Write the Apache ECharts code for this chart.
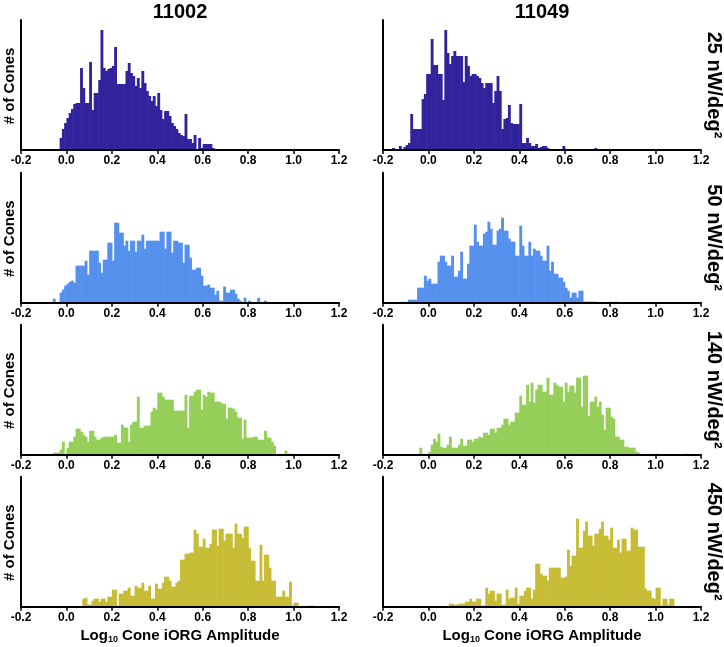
<!DOCTYPE html>
<html>
<head>
<meta charset="utf-8">
<script src="https://cdn.jsdelivr.net/npm/echarts@6/dist/echarts.min.js"></script>
<style>
  html, body { margin: 0; padding: 0; background: #fff; }
  #chart { width: 724px; height: 647px; }
</style>
</head>
<body>
<div id="chart"></div>
<script>
// bin width of every histogram (log10 units)
const BIN = 0.01;

// column / row labels
const animals = ['11002', '11049'];
const intensities = ['25', '50', '140', '450'];

// x axis ticks
const xMin = -0.2, xMax = 1.2, xStep = 0.2;

// 25 nW/deg2
const start11002_25 = -0.03;
const counts11002_25 = [12, 21, 27, 32, 37, 41, 46, 47, 47, 82, 62, 47, 47, 88, 40, 57, 57, 70, 120, 82,
  79, 81, 82, 84, 103, 66, 66, 66, 66, 79, 87, 77, 74, 64, 72, 62, 79, 67, 59, 54,
  49, 54, 44, 57, 40, 31, 39, 39, 34, 27, 24, 21, 17, 15, 14, 36, 11, 11, 7, 15,
  1, 12, 2, 6, 6, 6, 6, 2, 1, 1, 0, 1, 1, 0, 0, 0, 0, 0, 0, 0, 0, 0, 0, 1, 1];
const start11049_25 = -0.17;
const counts11049_25 = [1, 2, 0, 1, 4, 1, 3, 5, 7, 36, 21, 21, 21, 21, 51, 56, 76, 76, 111, 85,
  85, 76, 76, 50, 120, 97, 86, 94, 99, 94, 94, 94, 68, 94, 84, 74, 76, 76, 74, 72,
  67, 62, 67, 67, 67, 47, 59, 74, 59, 21, 31, 32, 45, 27, 26, 26, 26, 46, 7, 7,
  12, 7, 4, 4, 6, 2, 3, 4, 4, 2, 1, 1, 0, 1, 0, 0, 4, 1, 0, 0, 0, 0, 0, 0,
  0, 0, 0, 0, 0, 0, 2];

// 50 nW/deg2
const start11002_50 = -0.06;
const counts11002_50 = [4, 0, 0, 10, 13, 17, 19, 21, 22, 20, 37, 37, 37, 37, 42, 28, 52, 52, 52, 52,
  40, 30, 43, 43, 60, 60, 42, 80, 80, 70, 70, 57, 62, 52, 62, 62, 51, 62, 62, 68,
  54, 62, 62, 62, 62, 62, 62, 71, 71, 54, 71, 71, 50, 62, 62, 60, 60, 40, 58, 58,
  45, 33, 33, 35, 35, 27, 17, 17, 18, 15, 15, 8, 12, 2, 2, 16, 10, 10, 13, 13,
  9, 4, 2, 0, 5, 0, 2, 0, 0, 0, 5, 0, 0, 2];
const start11049_50 = -0.12;
const counts11049_50 = [1, 0, 0, 3, 3, 3, 3, 15, 15, 15, 27, 22, 24, 19, 19, 19, 41, 47, 47, 41,
  37, 37, 47, 26, 26, 32, 51, 24, 24, 39, 57, 57, 78, 61, 57, 57, 69, 71, 81, 74,
  58, 58, 72, 74, 85, 72, 72, 64, 61, 61, 47, 47, 77, 57, 47, 47, 61, 47, 54, 52,
  52, 47, 42, 42, 57, 32, 41, 29, 29, 25, 25, 21, 15, 12, 5, 10, 10, 5, 12, 12,
  1, 1, 1, 1, 1, 1, 0, 0, 0, 0, 0, 0, 1, 0, 1];

// 140 nW/deg2
const start11002_140 = -0.06;
const counts11002_140 = [2, 2, 2, 5, 13, 0, 7, 13, 13, 18, 26, 26, 23, 20, 18, 13, 24, 24, 18, 15,
  15, 17, 18, 18, 18, 18, 18, 20, 12, 12, 30, 27, 27, 13, 30, 33, 33, 58, 27, 27,
  29, 29, 29, 43, 47, 45, 62, 62, 58, 55, 55, 55, 55, 44, 44, 44, 44, 44, 60, 27,
  59, 59, 63, 65, 65, 45, 60, 58, 63, 62, 62, 53, 53, 53, 51, 51, 36, 47, 47, 46,
  43, 37, 37, 16, 35, 17, 17, 17, 18, 18, 15, 15, 15, 24, 17, 17, 13, 9, 0, 0,
  0, 0, 4, 1, 1, 1];
const start11049_140 = -0.05;
const counts11049_140 = [1, 7, 1, 0, 1, 3, 10, 16, 13, 21, 8, 7, 7, 10, 18, 7, 7, 7, 10, 16,
  9, 9, 15, 15, 13, 16, 16, 18, 17, 22, 22, 20, 26, 26, 22, 27, 27, 30, 36, 36,
  30, 33, 33, 42, 42, 59, 50, 50, 70, 53, 72, 52, 65, 70, 70, 63, 63, 77, 60, 60,
  72, 70, 68, 68, 53, 72, 63, 69, 69, 62, 77, 77, 48, 79, 79, 39, 53, 53, 58, 48,
  53, 40, 25, 47, 47, 38, 36, 18, 18, 15, 15, 8, 8, 7, 7, 7, 3, 2, 0, 0,
  0, 0, 1, 0, 0, 1, 0, 0, 0, 0, 0, 0, 0, 0, 0, 0, 0, 0, 1];

// 450 nW/deg2
const start11002_450 = 0.07;
const counts11002_450 = [8, 9, 2, 2, 6, 8, 8, 5, 8, 8, 5, 10, 10, 17, 17, 1, 13, 13, 16, 16,
  19, 11, 11, 21, 19, 19, 24, 16, 16, 21, 8, 8, 23, 18, 18, 24, 30, 30, 26, 20,
  20, 24, 26, 47, 47, 53, 53, 54, 54, 77, 73, 60, 60, 68, 59, 59, 63, 77, 77, 61,
  78, 78, 66, 73, 73, 73, 59, 83, 73, 73, 69, 80, 80, 59, 46, 46, 26, 26, 62, 26,
  52, 52, 39, 26, 26, 10, 10, 10, 16, 10, 10, 25, 1, 4, 4, 0, 0, 0, 0, 1,
  1, 1];
const start11049_450 = 0.09;
const counts11049_450 = [3, 3, 2, 2, 3, 3, 3, 5, 5, 8, 5, 5, 8, 8, 1, 1, 19, 13, 16, 16,
  6, 13, 13, 2, 2, 17, 8, 9, 9, 19, 3, 11, 11, 16, 19, 19, 8, 17, 43, 43,
  33, 31, 31, 26, 39, 39, 39, 39, 39, 29, 29, 30, 57, 41, 51, 51, 88, 59, 59, 76,
  85, 71, 71, 61, 73, 73, 78, 85, 71, 71, 67, 79, 59, 59, 67, 54, 68, 68, 56, 56,
  79, 77, 77, 60, 60, 60, 18, 16, 16, 9, 8, 19, 19, 1, 8, 8, 2, 8, 8];

const rowColors = ['#31239b', '#5591ec', '#95cf59', '#c7bc35'];

const panels = [
  { row: 0, col: 0, start: start11002_25, counts: counts11002_25 },
  { row: 0, col: 1, start: start11049_25, counts: counts11049_25 },
  { row: 1, col: 0, start: start11002_50, counts: counts11002_50 },
  { row: 1, col: 1, start: start11049_50, counts: counts11049_50 },
  { row: 2, col: 0, start: start11002_140, counts: counts11002_140 },
  { row: 2, col: 1, start: start11049_140, counts: counts11049_140 },
  { row: 3, col: 0, start: start11002_450, counts: counts11002_450 },
  { row: 3, col: 1, start: start11049_450, counts: counts11049_450 }
];

// layout
const colLeft = [21, 383];
const plotW = 318;
const rowBase = [150, 302.7, 454.7, 606.7];
const plotH = 130;
const FONT = '"Liberation Sans", Arial, Helvetica, sans-serif';

const chart = echarts.init(document.getElementById('chart'));

const grid = [], xAxis = [], yAxis = [], series = [];
panels.forEach((p, i) => {
  grid.push({
    left: colLeft[p.col],
    top: rowBase[p.row] - plotH,
    width: plotW,
    height: plotH,
    containLabel: false
  });
  xAxis.push({
    type: 'value',
    gridIndex: i,
    min: xMin,
    max: xMax,
    interval: xStep,
    z: 10,
    axisLine: { show: true, onZero: false, lineStyle: { color: '#000', width: 2 } },
    axisTick: { show: true, length: 4, lineStyle: { color: '#000', width: 1.5 } },
    splitLine: { show: false },
    axisLabel: {
      color: '#000',
      fontWeight: 'bold',
      fontSize: 12,
      fontFamily: FONT,
      margin: 5,
      formatter: v => (Math.abs(v) < 1e-9 ? 0 : v).toFixed(1)
    }
  });
  yAxis.push({
    type: 'value',
    gridIndex: i,
    min: 0,
    max: plotH,
    z: 10,
    axisLine: { show: true, onZero: false, lineStyle: { color: '#000', width: 2 } },
    axisTick: { show: false },
    axisLabel: { show: false },
    splitLine: { show: false }
  });
  const data = p.counts.map((c, k) => [+(p.start + k * BIN).toFixed(2), c]);
  series.push({
    type: 'custom',
    xAxisIndex: i,
    yAxisIndex: i,
    itemStyle: { color: rowColors[p.row] },
    encode: { x: 0, y: 1 },
    data: data,
    renderItem: function (params, api) {
      const x0 = api.value(0), h = api.value(1);
      if (!h) return null;
      const a = api.coord([x0, h]);
      const b = api.coord([x0 + BIN, 0]);
      return {
        type: 'rect',
        shape: { x: a[0], y: a[1], width: b[0] - a[0] + 0.6, height: b[1] - a[1] },
        style: { fill: api.visual('color') }
      };
    }
  });
});

const graphic = [];
// column titles
animals.forEach((a, c) => {
  graphic.push({
    type: 'text', x: colLeft[c] + 159, y: 12,
    style: { text: a, font: 'bold 20px ' + FONT, fill: '#000', textAlign: 'center', textVerticalAlign: 'middle' }
  });
});
// y axis names (left column only) and intensity labels
rowBase.forEach((b, r) => {
  const cy = b - plotH / 2;
  graphic.push({
    type: 'text', x: 10, y: cy + 1, rotation: Math.PI / 2,
    style: { text: '# of Cones', font: 'bold 15px ' + FONT, fill: '#000', textAlign: 'center', textVerticalAlign: 'middle' }
  });
  graphic.push({
    type: 'text', x: 714, y: cy, rotation: -Math.PI / 2,
    style: { text: intensities[r] + ' nW/deg²', font: 'bold 20px ' + FONT, fill: '#000', textAlign: 'center', textVerticalAlign: 'middle' }
  });
});
// x axis titles
[0, 1].forEach(c => {
  graphic.push({
    type: 'text', x: colLeft[c] + 159, y: 636,
    style: {
      text: '{a|Log}{s|10}{a| Cone iORG Amplitude}',
      textAlign: 'center', textVerticalAlign: 'middle',
      rich: {
        a: { font: 'bold 15px ' + FONT, fill: '#000', lineHeight: 17, verticalAlign: 'middle' },
        s: { font: 'bold 9px ' + FONT, fill: '#000', lineHeight: 9, verticalAlign: 'bottom' }
      }
    }
  });
});

chart.setOption({
  animation: false,
  backgroundColor: '#fff',
  grid: grid,
  xAxis: xAxis,
  yAxis: yAxis,
  series: series,
  graphic: graphic
});
</script>
</body>
</html>
